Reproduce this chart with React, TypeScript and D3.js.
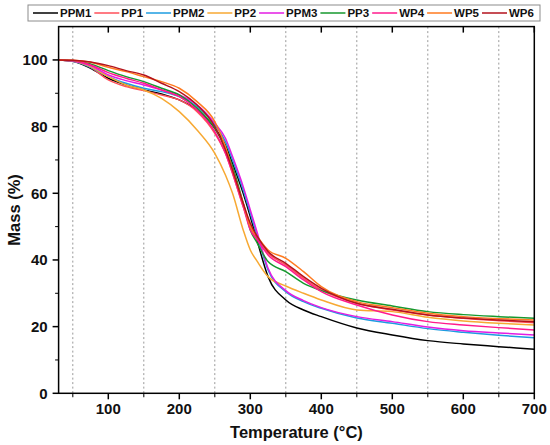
import React from 'react';
import * as d3 from 'd3';

// temperature grid (°C) shared by all the TGA curves
const temps = [30, 50, 75, 100, 125, 150, 175, 200, 225, 250, 265, 275, 290, 300, 310, 325, 350, 375, 400, 450, 500, 550, 600, 650, 700];

const ppm1 = [100, 99.6, 97.5, 94.5, 92.5, 91, 89.8, 88, 85, 79.5, 74.5, 69, 60, 53, 45.5, 35, 28, 25, 23, 19.6, 17.5, 15.8, 14.8, 14, 13.2];
const pp1 = [100, 99.7, 97.8, 94, 92, 90.8, 89.5, 88, 84.5, 78, 72, 66, 56, 50, 46, 42, 38.5, 34.5, 31, 27, 25, 23.5, 22.5, 21.8, 21.2];
const ppm2 = [100, 99.6, 97.8, 95, 93, 91.5, 90.5, 89, 86, 80.5, 75.5, 70, 61, 54, 47, 37, 30.5, 27.5, 25.5, 22.6, 21, 19.4, 18.3, 17.4, 16.7];
const pp2 = [100, 99.7, 98, 95, 92.5, 91, 88.5, 84.5, 79, 72, 65.5, 60, 49, 43, 39.5, 35, 32.2, 30, 28, 25, 24.5, 22.8, 21.7, 21, 20.5];
const ppm3 = [100, 99.7, 98.3, 95.5, 93.8, 92.5, 91, 89.5, 86.5, 81, 76.5, 71, 62, 55, 48, 37.5, 30.8, 27.8, 25.7, 23, 21.5, 19.9, 18.8, 18.1, 17.5];
const pp3 = [100, 99.8, 98.8, 96.8, 95, 93.5, 91.5, 89.5, 85.5, 79.5, 73.5, 68, 57, 49, 45, 39.5, 36.5, 33, 30.8, 28, 26.2, 24.5, 23.6, 23, 22.5];
const wp4 = [100, 99.8, 98.5, 96.2, 94.5, 93, 91, 89, 85, 78.5, 72, 66, 56, 49, 46, 41.5, 38, 34, 30.5, 26.5, 23.5, 21.5, 20.5, 19.7, 19];
const wp5 = [100, 99.9, 99.3, 97.8, 96.5, 95, 93.5, 91.5, 87.5, 81.5, 74, 67, 57, 50, 47, 43, 40.5, 36.5, 32, 27.5, 25.7, 24, 23, 22.4, 22];
const wp6 = [100, 99.9, 99.4, 98.3, 96.8, 95.5, 93, 90.5, 86.5, 80, 73, 67, 57, 51, 47, 42.5, 39, 35, 31.5, 27, 25.2, 23.5, 22.6, 22, 21.5];

const seriesNames = ['PPM1', 'PP1', 'PPM2', 'PP2', 'PPM3', 'PP3', 'WP4', 'WP5', 'WP6'];
const seriesValues = [ppm1, pp1, ppm2, pp2, ppm3, pp3, wp4, wp5, wp6];
const seriesColors = ['#000000', '#ff4f5a', '#1e9ce0', '#f7a933', '#e31ce3', '#16992e', '#ff1a8c', '#ff7a1f', '#b3121c'];

const xTicks = [100, 200, 300, 400, 500, 600, 700];
const xMinor = [50, 150, 250, 350, 450, 550, 650];
const yTicks = [0, 20, 40, 60, 80, 100];
const yMinor = [10, 30, 50, 70, 90];

const FONT = "'Liberation Sans', Arial, sans-serif";

const W = 550;
const H = 445;
const margin = { left: 58.6, right: W - 534.3, top: 26.6, bottom: H - 393.3 };

let ctx: CanvasRenderingContext2D | null = null;
const textWidth = (s: string, font: string) => {
  if (!ctx) ctx = document.createElement('canvas').getContext('2d');
  if (!ctx) return s.length * 6.5;
  ctx.font = font;
  return ctx.measureText(s).width;
};

const App: React.FC = () => {
  const x = d3.scaleLinear().domain([30, 700]).range([margin.left, W - margin.right]);
  const y = d3.scaleLinear().domain([0, 110]).range([H - margin.bottom, margin.top]);

  const line = d3
    .line<number>()
    .x((_, i) => x(temps[i]))
    .y(d => y(d))
    .curve(d3.curveMonotoneX);

  const [x0, x1] = x.range();
  const [y0, y1] = y.range();

  // legend laid out left to right, line sample then label
  const legendFont = `bold 11.5px ${FONT}`;
  const sampleLen = 25;
  let cursor = 33;
  const legendItems = seriesNames.map((name, i) => {
    const start = cursor;
    const tw = textWidth(name, legendFont);
    cursor = start + sampleLen + 2 + tw + 3;
    return { name, color: seriesColors[i], start, textX: start + sampleLen + 2 };
  });

  return (
    <svg width={W} height={H} style={{ position: 'absolute', left: 0, top: 0, background: '#fff' }} fontFamily={FONT}>
      {/* legend */}
      <rect x={28} y={5} width={512} height={16} fill="#fff" stroke="#8c8c8c" strokeWidth={1} />
      {legendItems.map(item => (
        <g key={item.name}>
          <line x1={item.start} x2={item.start + sampleLen} y1={13} y2={13} stroke={item.color} strokeWidth={1.5} />
          <text x={item.textX} y={17.2} fontSize={11.5} fontWeight="bold" fill="#111">
            {item.name}
          </text>
        </g>
      ))}

      {/* dotted grid at the minor positions */}
      {xMinor.map(t => (
        <line key={`g${t}`} x1={x(t)} x2={x(t)} y1={y1} y2={y0 + 5} stroke="#999" strokeWidth={1} strokeDasharray="2,2.5" />
      ))}

      {/* curves */}
      {seriesValues.map((vals, i) => (
        <path key={seriesNames[i]} d={line(vals) || ''} fill="none" stroke={seriesColors[i]} strokeWidth={1.5} />
      ))}

      {/* frame */}
      <rect x={x0} y={y1} width={x1 - x0} height={y0 - y1} fill="none" stroke="#000" strokeWidth={1.5} />

      {/* x axis ticks */}
      {xTicks.map(t => (
        <g key={`x${t}`}>
          <line x1={x(t)} x2={x(t)} y1={y0} y2={y0 + 6} stroke="#000" strokeWidth={1.5} />
          <line x1={x(t)} x2={x(t)} y1={y1} y2={y1 + 6} stroke="#000" strokeWidth={1.5} />
          <text x={x(t)} y={y0 + 21} textAnchor="middle" fontSize={15} fontWeight="bold" fill="#111">
            {t}
          </text>
        </g>
      ))}
      {xMinor.map(t => (
        <line key={`xm${t}`} x1={x(t)} x2={x(t)} y1={y0} y2={y0 + 3.5} stroke="#000" strokeWidth={1} />
      ))}

      {/* y axis ticks */}
      {yTicks.map(t => (
        <g key={`y${t}`}>
          <line x1={x0 - 6} x2={x0} y1={y(t)} y2={y(t)} stroke="#000" strokeWidth={1.5} />
          <text x={x0 - 11} y={y(t) + 5.5} textAnchor="end" fontSize={15} fontWeight="bold" fill="#111">
            {t}
          </text>
        </g>
      ))}
      {yMinor.map(t => (
        <line key={`ym${t}`} x1={x0 - 3.5} x2={x0} y1={y(t)} y2={y(t)} stroke="#000" strokeWidth={1} />
      ))}

      {/* axis titles */}
      <text x={(x0 + x1) / 2} y={438} textAnchor="middle" fontSize={16.5} fontWeight="bold" fill="#111">
        Temperature (°C)
      </text>
      <text
        transform={`translate(20, ${(y0 + y1) / 2}) rotate(-90)`}
        textAnchor="middle"
        fontSize={16.5}
        fontWeight="bold"
        fill="#111"
      >
        Mass (%)
      </text>
    </svg>
  );
};

export default App;
